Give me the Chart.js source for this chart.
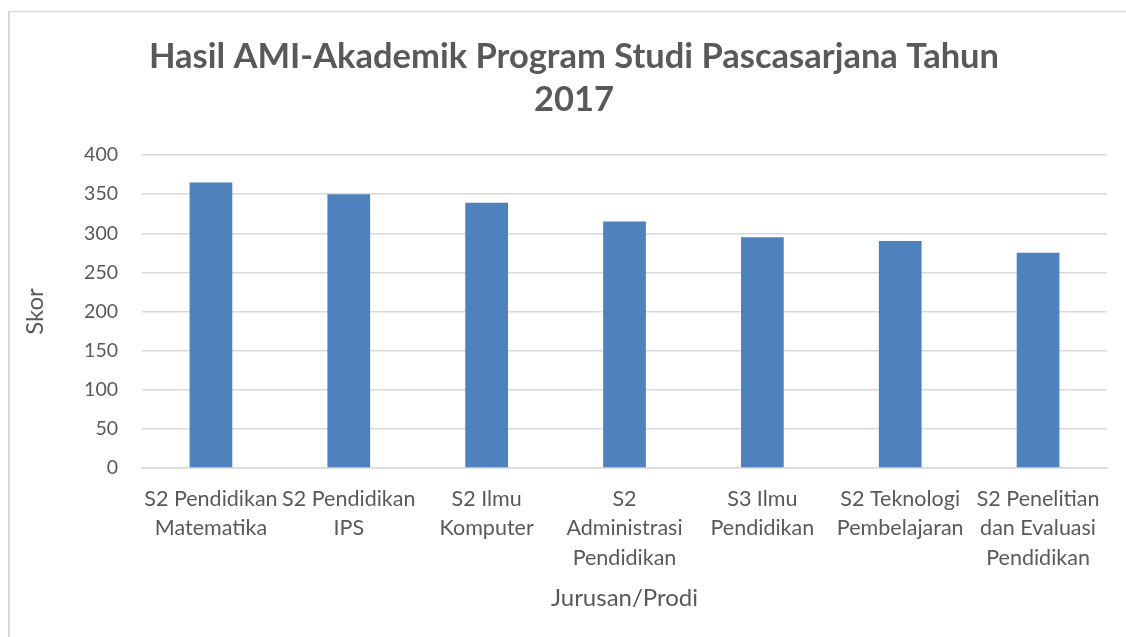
<!DOCTYPE html>
<html>
<head>
<meta charset="utf-8">
<script src="https://cdn.jsdelivr.net/npm/chart.js@4/dist/chart.umd.min.js"></script>
<style>
  html, body { margin: 0; padding: 0; overflow: hidden; background: #fff; }
  #wrap { position: absolute; left: 0; top: 0; width: 1148px; height: 637px; }
</style>
</head>
<body>
<div id="wrap"><canvas id="amiChart" width="1148" height="637"></canvas></div>
<script>
const prodiLabels = [
  ["S2 Pendidikan", "Matematika"],
  ["S2 Pendidikan", "IPS"],
  ["S2 Ilmu", "Komputer"],
  ["S2", "Administrasi", "Pendidikan"],
  ["S3 Ilmu", "Pendidikan"],
  ["S2 Teknologi", "Pembelajaran"],
  ["S2 Penelitian", "dan Evaluasi", "Pendidikan"],
];
const skorValues = [365, 350, 339, 315, 295, 290, 275];
const chartTitle = ["Hasil AMI-Akademik Program Studi Pascasarjana Tahun", "2017"];

const textColor = "#595959";
const gridColor = "#d9d9d9";

// light frame on the left and top edge, like the cropped Excel chart
const framePlugin = {
  id: "frame",
  beforeDraw(chart) {
    const ctx = chart.ctx;
    ctx.save();
    ctx.strokeStyle = "#d9d9d9";
    ctx.lineWidth = 2;
    ctx.beginPath();
    ctx.moveTo(9, 11);
    ctx.lineTo(9, chart.height);
    ctx.stroke();
    ctx.lineWidth = 1.5;
    ctx.beginPath();
    ctx.moveTo(8, 11.5);
    ctx.lineTo(chart.width, 11.5);
    ctx.stroke();
    ctx.restore();
  },
};

const ctx = document.getElementById("amiChart").getContext("2d");

new Chart(ctx, {
  type: "bar",
  data: {
    labels: prodiLabels,
    datasets: [
      {
        data: skorValues,
        backgroundColor: "#4f81bd",
        borderWidth: 0,
        categoryPercentage: 1,
        barPercentage: 0.31,
      },
    ],
  },
  options: {
    responsive: false,
    animation: false,
    // left padding keeps the title centred where Excel put it
    layout: { padding: { left: 41, right: 41, top: 0, bottom: 0 } },
    plugins: {
      legend: { display: false },
      tooltip: { enabled: false },
      title: {
        display: true,
        text: chartTitle,
        color: textColor,
        font: { family: "Lato", size: 34.5, weight: "bold", lineHeight: "43px" },
        padding: { top: 35, bottom: 34 },
      },
    },
    scales: {
      x: {
        afterFit: (scale) => { scale.height = 169; },
        grid: { display: false, drawTicks: false },
        border: { color: gridColor, width: 1.5 },
        ticks: {
          color: textColor,
          autoSkip: false,
          maxRotation: 0,
          padding: 16,
          font: { family: "Lato", size: 21.5, lineHeight: "29.5px" },
        },
        title: {
          display: true,
          text: "Jurusan/Prodi",
          color: textColor,
          font: { family: "Lato", size: 24, lineHeight: "28px" },
          padding: { top: 0, bottom: 25 },
        },
      },
      y: {
        min: 0,
        max: 400,
        afterFit: (scale) => { scale.width = 101; },
        border: { display: false },
        grid: { color: gridColor, lineWidth: 1.5, drawTicks: false },
        ticks: {
          stepSize: 50,
          color: textColor,
          padding: 24,
          font: { family: "Lato", size: 19.5 },
        },
        title: {
          display: true,
          text: "Skor",
          color: textColor,
          font: { family: "Lato", size: 24, lineHeight: "28px" },
          padding: { top: -20, bottom: 0 },
        },
      },
    },
  },
  plugins: [framePlugin],
});
</script>
</body>
</html>
